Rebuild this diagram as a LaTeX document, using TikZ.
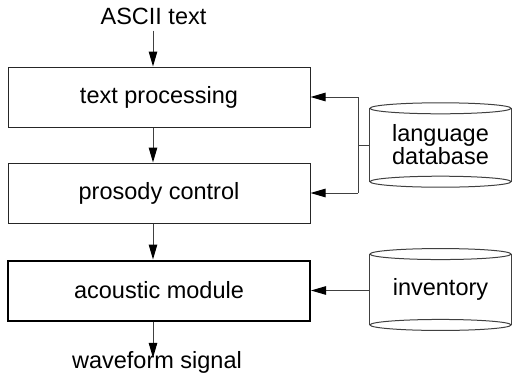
\documentclass[tikz,border=0pt]{standalone}
\usepackage{fontspec}
\setmainfont{Liberation Sans}
\usetikzlibrary{arrows.meta}
\begin{document}
\begin{tikzpicture}[x=1pt,y=-1pt,
  every node/.style={font=\fontsize{23.5}{26}\selectfont, inner sep=0pt},
  proc/.style={draw=black!85, line width=1pt, minimum width=302pt, minimum height=60pt},
  thickproc/.style={proc, draw=black, line width=2pt},
  cyl/.style={minimum width=141pt, align=center},
  conn/.style={draw=black!75, line width=1pt},
  arr/.style={conn, -{Triangle[length=15pt,width=8.5pt,color=black]}}
]
\useasboundingbox (0,0) rectangle (512,381);
\coordinate (ax) at (153,0);
\coordinate (bx) at (358,0);

\node (ascii) at (153.5,16) {ASCII text};
\node[proc] (tp) at (159,97) {text processing};
\node[proc] (pc) at (159,193) {prosody control};
\node[thickproc] (am) at (159,290.5) {acoustic module};
\node (wave) at (157,362) {waveform signal};

\node[cyl, minimum height=73pt] (ldb) at (440.5,145) {language\\[-3pt]database};
\node[cyl, minimum height=70.5pt] (inv) at (440.5,289.5) {inventory};

% cylinders
\foreach \n in {ldb,inv}{
  \draw[conn] (\n.north) ellipse [x radius=70.5, y radius=5.5];
  \draw[conn] (\n.south) ellipse [x radius=70.5, y radius=5.5];
  \draw[conn] (\n.north west) -- (\n.south west);
  \draw[conn] (\n.north east) -- (\n.south east);
}

% main chain
\draw[arr] (ascii.south -| ax) ++(0,6) -- (tp.north -| ax);
\draw[arr] (tp.south -| ax) -- (pc.north -| ax);
\draw[arr] (pc.south -| ax) -- (am.north -| ax);
\draw[arr] (am.south -| ax) -- ([yshift=-7pt]wave.north -| ax);

% language database feed
\coordinate (j1) at (tp.east -| bx);
\coordinate (j2) at (pc.east -| bx);
\draw[conn] (ldb.west) -- (ldb.west -| bx);
\draw[conn] (j1) -- (j2);
\draw[arr] (j1) -- (tp.east);
\draw[arr] (j2) -- (pc.east);

% inventory feed
\draw[arr] (inv.west |- am.east) -- (am.east);
\end{tikzpicture}
\end{document}
